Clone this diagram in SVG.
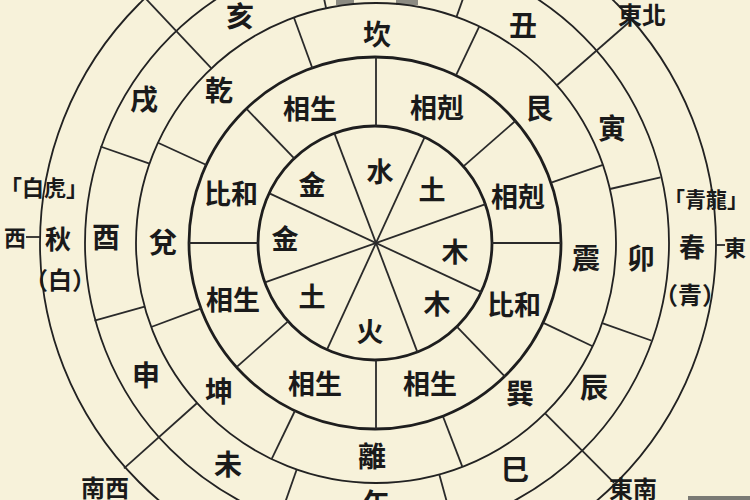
<svg xmlns="http://www.w3.org/2000/svg" width="750" height="500" viewBox="0 0 750 500">
<style>
.ring{fill:none;stroke:#222;stroke-width:1.8}
.ringb{fill:none;stroke:#1e1e1e;stroke-width:2.8}
.ln{fill:none;stroke:#2a2a2a;stroke-width:1.8}
text{font-family:"Noto Sans CJK TC","Noto Sans CJK SC",sans-serif;fill:#1a1a1a;text-anchor:middle;dominant-baseline:central;font-weight:600}
.e{font-size:27px}
.r{font-size:27px}
.g{font-size:28px}
.s{font-size:26px}
.m{font-size:24px}
.k{font-size:22px}
</style>
<rect width="750" height="500" fill="#f7f2da"/>
<g id="artifacts" fill="#8c8b82">
<rect x="336" y="0" width="18" height="5"/>
<rect x="396" y="0" width="22" height="5"/>
<rect x="688" y="496" width="62" height="4" fill="#7a7a74"/>
</g>
<g id="rings">
<circle class="ring" cx="378" cy="243" r="338"/>
<circle class="ring" cx="377" cy="243" r="292"/>
<circle class="ring" cx="376" cy="243" r="240"/>
<circle class="ringb" cx="375" cy="243" r="186"/>
<circle class="ringb" cx="375" cy="243" r="117"/>
</g>
<g id="connectors">
<!-- ring 1: five elements -->
<line class="ln" x1="417.5" y1="352.4" x2="334.5" y2="133.6"/>
<line class="ln" x1="424.9" y1="136.7" x2="327.1" y2="349.3"/>
<line class="ln" x1="486.3" y1="203.9" x2="265.7" y2="282.1"/>
<line class="ln" x1="482.0" y1="292.4" x2="270.0" y2="193.6"/>
<!-- ring 2: relations -->
<line class="ln" x1="376" y1="126" x2="376" y2="57"/>
<line class="ln" x1="492" y1="243" x2="561" y2="243"/>
<line class="ln" x1="376" y1="360" x2="376" y2="429"/>
<line class="ln" x1="258" y1="243" x2="189" y2="243"/>
<line class="ln" x1="464.0" y1="165.9" x2="515.9" y2="120.5"/>
<line class="ln" x1="457.3" y1="327.2" x2="505.2" y2="376.8"/>
<line class="ln" x1="288.6" y1="320.8" x2="237.1" y2="366.7"/>
<line class="ln" x1="294.7" y1="158.8" x2="246.8" y2="109.2"/>
<!-- ring 3: trigrams -->
<line class="ln" x1="456.1" y1="75.1" x2="479.3" y2="26.4"/>
<line class="ln" x1="551.9" y1="182.4" x2="602.9" y2="164.9"/>
<line class="ln" x1="543.9" y1="323.1" x2="592.6" y2="346.3"/>
<line class="ln" x1="443.0" y1="416.5" x2="462.4" y2="466.9"/>
<line class="ln" x1="295.1" y1="410.5" x2="271.6" y2="459.1"/>
<line class="ln" x1="201.8" y1="308.1" x2="151.2" y2="327.0"/>
<line class="ln" x1="207.0" y1="165.3" x2="158.0" y2="142.7"/>
<line class="ln" x1="312.4" y1="68.2" x2="293.9" y2="17.5"/>
<!-- ring 4: branches -->
<line class="ln" x1="456.5" y1="16.9" x2="474.0" y2="-32.1"/>
<line class="ln" x1="609.9" y1="189.0" x2="660.5" y2="177.3"/>
<line class="ln" x1="602.2" y1="323.1" x2="651.2" y2="340.5"/>
<line class="ln" x1="439.3" y1="474.5" x2="453.1" y2="524.7"/>
<line class="ln" x1="296.7" y1="469.5" x2="279.5" y2="518.6"/>
<line class="ln" x1="144.6" y1="306.7" x2="94.5" y2="320.6"/>
<line class="ln" x1="149.5" y1="163.7" x2="100.4" y2="146.5"/>
<line class="ln" x1="326.1" y1="8.3" x2="315.3" y2="-42.6"/>
<!-- diagonals to outer ring -->
<line class="ln" x1="556.9" y1="85.2" x2="630.7" y2="20.8"/>
<line class="ln" x1="545.1" y1="413.3" x2="614.2" y2="482.8"/>
<line class="ln" x1="197.1" y1="403.0" x2="124.0" y2="468.3"/>
<line class="ln" x1="211.4" y1="68.3" x2="144.2" y2="-3.0"/>
<!-- direction dashes -->
<line class="ln" x1="26" y1="237" x2="40" y2="237"/>
<line class="ln" x1="716" y1="245" x2="725" y2="245"/>
</g>
<g id="elements">
<text class="e" x="380" y="170">水</text>
<text class="e" x="432" y="188">土</text>
<text class="e" x="455" y="250">木</text>
<text class="e" x="437" y="302">木</text>
<text class="e" x="370" y="330">火</text>
<text class="e" x="312" y="295">土</text>
<text class="e" x="285" y="237">金</text>
<text class="e" x="312" y="183">金</text>
</g>
<g id="relations">
<text class="r" x="310" y="107">相生</text>
<text class="r" x="437" y="106">相剋</text>
<text class="r" x="518" y="195">相剋</text>
<text class="r" x="514" y="303">比和</text>
<text class="r" x="430" y="382">相生</text>
<text class="r" x="315" y="382">相生</text>
<text class="r" x="233" y="298">相生</text>
<text class="r" x="231" y="192">比和</text>
</g>
<g id="trigrams">
<text class="g" x="377" y="33">坎</text>
<text class="g" x="539" y="107">艮</text>
<text class="g" x="586" y="257">震</text>
<text class="g" x="520" y="392">巽</text>
<text class="g" x="372" y="455">離</text>
<text class="g" x="219" y="390">坤</text>
<text class="g" x="163" y="241">兌</text>
<text class="g" x="219" y="89">乾</text>
</g>
<g id="branches">
<text class="g" x="240" y="15">亥</text>
<text class="g" x="523" y="24">丑</text>
<text class="g" x="612" y="127">寅</text>
<text class="g" x="641" y="257">卯</text>
<text class="g" x="594" y="386">辰</text>
<text class="g" x="515" y="468">巳</text>
<text class="g" x="377" y="502">午</text>
<text class="g" x="228" y="463">未</text>
<text class="g" x="146" y="374">申</text>
<text class="g" x="106" y="236">酉</text>
<text class="g" x="144" y="98">戌</text>
</g>
<g id="seasons">
<text class="s" x="58" y="237">秋</text>
<text class="k" x="44" y="186">「白虎」</text>
<text class="m" x="60" y="278">（白）</text>
<text class="s" x="692" y="245">春</text>
<text class="k" x="706" y="198" style="font-size:21px">「青龍」</text>
<text class="m" x="690" y="293">（青）</text>
</g>
<g id="directions">
<text class="k" x="15" y="236">西</text>
<text class="k" x="735" y="246">東</text>
<text class="m" x="642" y="13">東北</text>
<text class="m" x="105" y="486">南西</text>
<text class="m" x="633" y="487">東南</text>
</g>
</svg>
